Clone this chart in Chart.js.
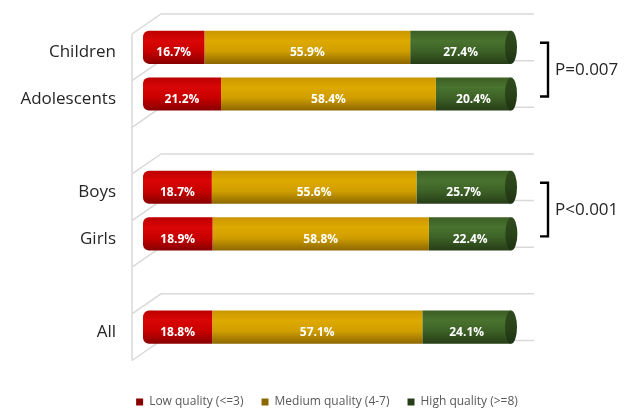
<!DOCTYPE html>
<html><head><meta charset="utf-8">
<script src="https://cdn.jsdelivr.net/npm/chart.js@4.4.1/dist/chart.umd.min.js"></script>
<style>html,body{margin:0;padding:0;background:#fff}#wrap{width:634px;height:410px}</style>
</head><body><div id="wrap"><canvas id="c" width="634" height="410"></canvas></div>
<script>
const categories = ['Children', 'Adolescents', '', 'Boys', 'Girls', '', 'All'];
const seriesNames = ['Low quality (<=3)', 'Medium quality (4-7)', 'High quality (>=8)'];
const lowQuality = [16.7, 21.2, null, 18.7, 18.9, null, 18.8];
const mediumQuality = [55.9, 58.4, null, 55.6, 58.8, null, 57.1];
const highQuality = [27.4, 20.4, null, 25.7, 22.4, null, 24.1];
const pGroups = [
  { from: 'Children', to: 'Adolescents', label: 'P=0.007' },
  { from: 'Boys', to: 'Girls', label: 'P<0.001' }
];

const palettes = [
  { top: '#BC0000', light: '#DA0606', base: '#C80000', dark: '#880000' },
  { top: '#CA9600', light: '#DEA900', base: '#D09E00', dark: '#8C6700' },
  { top: '#3C5E24', light: '#49732E', base: '#3D6126', dark: '#263D17' }
];
const BAR_PCT = 0.71;
const FONT = 'Open Sans';

function barHeight(chart) {
  const ca = chart.chartArea;
  return (ca.bottom - ca.top) / categories.length * BAR_PCT;
}
function cylFill(pal) {
  return (ctx) => {
    const chart = ctx.chart;
    if (!chart.chartArea || ctx.type !== 'data') return pal.base;
    const y = chart.scales.y.getPixelForValue(ctx.dataIndex);
    const h = barHeight(chart);
    const g = chart.ctx.createLinearGradient(0, y - h / 2, 0, y + h / 2);
    g.addColorStop(0, pal.top);
    g.addColorStop(0.3, pal.light);
    g.addColorStop(0.62, pal.base);
    g.addColorStop(1, pal.dark);
    return g;
  };
}
function noPad(s) {
  s.paddingTop = 0; s.paddingBottom = 0; s.paddingLeft = 0; s.paddingRight = 0;
}

const wallPlugin = {
  id: 'wall',
  beforeDatasetsDraw(chart) {
    const { ctx, chartArea: ca } = chart;
    const n = categories.length;
    const slot = (ca.bottom - ca.top) / n;
    const fx = ca.left - 11, dy = 10, dx = 29, dz = -20;
    ctx.save();
    ctx.strokeStyle = '#D9D9D9';
    ctx.lineWidth = 1.5;
    ctx.beginPath();
    ctx.moveTo(fx, ca.top + dy);
    ctx.lineTo(fx, ca.bottom + dy);
    for (let k = 0; k <= n; k++) {
      const fy = ca.top + k * slot + dy;
      ctx.moveTo(fx, fy);
      ctx.lineTo(fx + dx, fy + dz);
      ctx.lineTo(ca.right + 23, fy + dz);
    }
    ctx.stroke();
    ctx.restore();
  }
};

const decoPlugin = {
  id: 'deco',
  afterDatasetsDraw(chart) {
    const { ctx, chartArea: ca } = chart;
    const lastIdx = chart.data.datasets.length - 1;
    const lastMeta = chart.getDatasetMeta(lastIdx);
    lastMeta.data.forEach((el, i) => {
      if (chart.data.datasets[lastIdx].data[i] == null) return;
      const p = el.getProps(['x', 'y', 'height']);
      const h = p.height;
      ctx.save();
      const g = ctx.createLinearGradient(0, p.y - h / 2, 0, p.y + h / 2);
      g.addColorStop(0, '#2F4B1D');
      g.addColorStop(0.5, '#2A4419');
      g.addColorStop(1, '#1E3212');
      ctx.fillStyle = g;
      ctx.beginPath();
      ctx.ellipse(p.x, p.y, 6, h / 2, 0, 0, Math.PI * 2);
      ctx.fill();
      ctx.restore();
    });
    ctx.save();
    ctx.fillStyle = '#FFFFFF';
    ctx.font = 'bold 12px "' + FONT + '"';
    ctx.textAlign = 'center';
    ctx.textBaseline = 'middle';
    chart.data.datasets.forEach((ds, di) => {
      const meta = chart.getDatasetMeta(di);
      meta.data.forEach((el, i) => {
        const v = ds.data[i];
        if (v == null) return;
        const p = el.getProps(['x', 'y', 'base']);
        ctx.fillText(v.toFixed(1) + '%', (p.x + p.base) / 2, p.y + 5.5);
      });
    });
    ctx.restore();
    const y = chart.scales.y;
    ctx.save();
    ctx.strokeStyle = '#000000';
    ctx.lineWidth = 2.4;
    ctx.fillStyle = '#262626';
    ctx.font = '17px "' + FONT + '"';
    ctx.textAlign = 'left';
    ctx.textBaseline = 'middle';
    pGroups.forEach(gp => {
      const y1 = y.getPixelForValue(categories.indexOf(gp.from)) - 4.5;
      const y2 = y.getPixelForValue(categories.indexOf(gp.to)) + 2.5;
      const bx = ca.right + 37;
      ctx.beginPath();
      ctx.moveTo(bx - 8, y1);
      ctx.lineTo(bx, y1);
      ctx.lineTo(bx, y2);
      ctx.lineTo(bx - 8, y2);
      ctx.stroke();
      ctx.fillText(gp.label, bx + 7, (y1 + y2) / 2 + 1);
    });
    ctx.restore();
  }
};

const legendShift = {
  id: 'legendShift',
  afterLayout(chart) {
    const lg = chart.legend;
    if (lg) { lg.top += 8; lg.bottom += 8; }
  }
};

const seriesData = [lowQuality, mediumQuality, highQuality];
const datasets = seriesData.map((d, i) => ({
  label: seriesNames[i],
  data: d,
  backgroundColor: cylFill(palettes[i]),
  borderWidth: 0,
  borderSkipped: false,
  borderRadius: i === 0 ? { topLeft: 6, bottomLeft: 6, topRight: 0, bottomRight: 0 } : 0,
  categoryPercentage: 1,
  barPercentage: BAR_PCT
}));

new Chart(document.getElementById('c'), {
  type: 'bar',
  data: { labels: categories, datasets },
  options: {
    indexAxis: 'y',
    responsive: false,
    animation: false,
    layout: { padding: { left: 20, right: 0, top: 24, bottom: 0 } },
    scales: {
      x: {
        stacked: true, min: 0, max: 100, display: true,
        grid: { display: false, drawTicks: false }, border: { display: false },
        ticks: { display: false },
        afterFit(s) { s.height = 19.5; noPad(s); }
      },
      y: {
        stacked: true, position: 'left',
        grid: { display: false, drawTicks: false }, border: { display: false },
        ticks: { color: '#262626', font: { family: FONT, size: 17 }, padding: 27, labelOffset: 5, autoSkip: false },
        afterFit(s) { s.width = 123; noPad(s); }
      },
      y2: {
        type: 'category', labels: categories, position: 'right', display: true,
        grid: { display: false, drawTicks: false }, border: { display: false },
        ticks: { display: false },
        afterFit(s) { s.width = 123; noPad(s); }
      }
    },
    plugins: {
      legend: {
        position: 'bottom',
        labels: {
          boxWidth: 7, boxHeight: 7, padding: 18, color: '#595959',
          font: { family: FONT, size: 12 }
        }
      },
      tooltip: { enabled: false }
    }
  },
  plugins: [wallPlugin, decoPlugin, legendShift]
});
</script>
</body></html>
